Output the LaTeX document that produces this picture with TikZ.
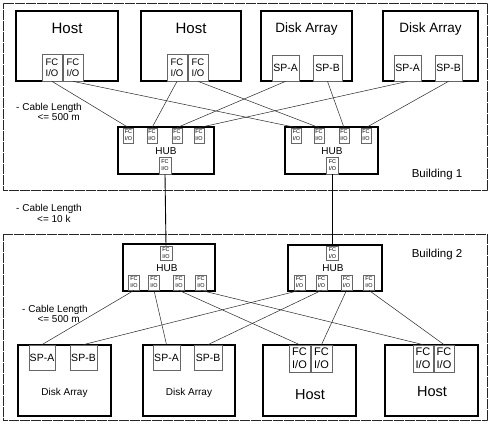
\documentclass[tikz,border=0pt]{standalone}
\usepackage{fontspec}
\setmainfont{Liberation Sans}
\begin{document}
\begin{tikzpicture}[x=1pt,y=-1pt,
  bld/.style={draw=black!85, line width=0.9pt, dash pattern=on 0.6pt off 0.5pt, inner sep=0pt},
  unit/.style={draw, line width=1.2pt, inner sep=0pt},
  port/.style={draw=black!60, line width=0.75pt, inner sep=0pt, fill=white, align=center},
  bigport/.style={port, font=\fontsize{9.5}{11}\selectfont},
  hubport/.style={port, minimum width=10, font=\fontsize{5.5}{7}\selectfont},
  spport/.style={port, font=\fontsize{10.5}{12}\selectfont},
  lowport/.style={port, font=\fontsize{11}{13}\selectfont},
  wire/.style={line width=0.5pt, black!85},
  link/.style={line width=0.9pt},
  lbl/.style={inner sep=0pt, font=\fontsize{10}{12}\selectfont}
]
\useasboundingbox (0,0) rectangle (492,425);
% buildings
\node[bld, minimum width=484, minimum height=187] (b1) at (245,96.5) {};
\node[bld, minimum width=484, minimum height=186] (b2) at (245,327) {};
\node[inner sep=0pt, font=\fontsize{11.5}{13}\selectfont] (b1t) at (437,175) {Building 1};
\node[inner sep=0pt, font=\fontsize{11.5}{13}\selectfont] (b2t) at (437,255) {Building 2};

% ---- top row ----
\node[unit, minimum width=102, minimum height=70] (host1) at (67,46) {};
\node[inner sep=0pt, font=\fontsize{15}{18}\selectfont] (host1t) at (67,28) {Host};
\node[bigport, minimum width=20, minimum height=27] (h1a) at (52,67.5) {FC\\I/O};
\node[bigport, minimum width=20, minimum height=27] (h1b) at (73,67.5) {FC\\I/O};

\node[unit, minimum width=100, minimum height=70] (host2) at (191,46) {};
\node[inner sep=0pt, font=\fontsize{15}{18}\selectfont] (host2t) at (191,28) {Host};
\node[bigport, minimum width=20, minimum height=27] (h2a) at (177,67.5) {FC\\I/O};
\node[bigport, minimum width=20, minimum height=27] (h2b) at (198,67.5) {FC\\I/O};

\node[unit, minimum width=91, minimum height=70] (disk1) at (306.5,46) {};
\node[inner sep=0pt, font=\fontsize{13.5}{16}\selectfont] (disk1t) at (306.5,29) {Disk Array};
\node[spport, minimum width=27, minimum height=26] (d1a) at (285.5,68) {SP-A};
\node[spport, minimum width=29, minimum height=26] (d1b) at (327.5,68) {SP-B};

\node[unit, minimum width=95, minimum height=70] (disk2) at (430.5,46) {};
\node[inner sep=0pt, font=\fontsize{13.5}{16}\selectfont] (disk2t) at (430.5,29) {Disk Array};
\node[spport, minimum width=27, minimum height=26] (d2a) at (407.5,68) {SP-A};
\node[spport, minimum width=27, minimum height=26] (d2b) at (448.5,68) {SP-B};

% ---- upper hubs ----
\node[unit, minimum width=96, minimum height=47] (hub1) at (166,150.5) {};
\node[inner sep=0pt, font=\fontsize{10}{12}\selectfont] (hub1t) at (166,151) {HUB};
\node[hubport, minimum height=15] (u1a) at (128.5,135.5) {FC\\I/O};
\node[hubport, minimum height=15] (u1b) at (152,135.5) {FC\\I/O};
\node[hubport, minimum height=15] (u1c) at (177,135.5) {FC\\I/O};
\node[hubport, minimum height=15] (u1d) at (199,135.5) {FC\\I/O};
\node[hubport, minimum width=12, minimum height=17] (u1o) at (165,165.5) {FC\\I/O};

\node[unit, minimum width=93, minimum height=47] (hub2) at (331.5,150.5) {};
\node[inner sep=0pt, font=\fontsize{10}{12}\selectfont] (hub2t) at (332,151) {HUB};
\node[hubport, minimum height=15] (u2a) at (296.5,135.5) {FC\\I/O};
\node[hubport, minimum height=15] (u2b) at (319,135.5) {FC\\I/O};
\node[hubport, minimum height=15] (u2c) at (344,135.5) {FC\\I/O};
\node[hubport, minimum height=15] (u2d) at (366,135.5) {FC\\I/O};
\node[hubport, minimum width=12, minimum height=17] (u2o) at (332.5,165.5) {FC\\I/O};

% ---- lower hubs ----
\node[unit, minimum width=92, minimum height=47] (hub3) at (169,267.5) {};
\node[inner sep=0pt, font=\fontsize{10}{12}\selectfont] (hub3t) at (167,268) {HUB};
\node[hubport, minimum width=12, minimum height=14] (u3o) at (166,253) {FC\\I/O};
\node[hubport, minimum width=11, minimum height=15] (u3a) at (134,282.5) {FC\\I/O};
\node[hubport, minimum width=11, minimum height=15] (u3b) at (154,282.5) {FC\\I/O};
\node[hubport, minimum width=11, minimum height=15] (u3c) at (179,282.5) {FC\\I/O};
\node[hubport, minimum width=11, minimum height=15] (u3d) at (201,282.5) {FC\\I/O};

\node[unit, minimum width=94, minimum height=46] (hub4) at (335,268) {};
\node[inner sep=0pt, font=\fontsize{10}{12}\selectfont] (hub4t) at (333,268) {HUB};
\node[hubport, minimum width=12, minimum height=14] (u4o) at (332.5,253) {FC\\I/O};
\node[hubport, minimum width=11, minimum height=15] (u4a) at (299.5,282.5) {FC\\I/O};
\node[hubport, minimum width=11, minimum height=15] (u4b) at (321.5,282.5) {FC\\I/O};
\node[hubport, minimum width=11, minimum height=15] (u4c) at (346.5,282.5) {FC\\I/O};
\node[hubport, minimum width=11, minimum height=15] (u4d) at (369,282.5) {FC\\I/O};

% ---- bottom row ----
\node[unit, minimum width=93, minimum height=71] (disk3) at (64.5,380.5) {};
\node[inner sep=0pt, font=\fontsize{10}{12}\selectfont] (disk3t) at (64.5,393) {Disk Array};
\node[spport, minimum width=26, minimum height=25] (d3a) at (42,357.5) {SP-A};
\node[spport, minimum width=27, minimum height=25] (d3b) at (83.5,357.5) {SP-B};

\node[unit, minimum width=92, minimum height=71] (disk4) at (189,380.5) {};
\node[inner sep=0pt, font=\fontsize{10}{12}\selectfont] (disk4t) at (189,393) {Disk Array};
\node[spport, minimum width=27, minimum height=25] (d4a) at (166.5,357.5) {SP-A};
\node[spport, minimum width=28, minimum height=25] (d4b) at (208,357.5) {SP-B};

\node[unit, minimum width=93, minimum height=71] (host3) at (309.5,380.5) {};
\node[inner sep=0pt, font=\fontsize{14.5}{17}\selectfont] (host3t) at (310,395) {Host};
\node[lowport, minimum width=21, minimum height=27] (h3a) at (299.5,358.5) {FC\\I/O};
\node[lowport, minimum width=21, minimum height=27] (h3b) at (321.5,358.5) {FC\\I/O};

\node[unit, minimum width=93, minimum height=71] (host4) at (431.5,380.5) {};
\node[inner sep=0pt, font=\fontsize{14.5}{17}\selectfont] (host4t) at (432,392) {Host};
\node[lowport, minimum width=20, minimum height=27] (h4a) at (423,358.5) {FC\\I/O};
\node[lowport, minimum width=20, minimum height=27] (h4b) at (444,358.5) {FC\\I/O};

% ---- cable length notes ----
\node[lbl, anchor=base west] (c1a) at (16,110.5) {- Cable Length};
\node[lbl, anchor=base east] (c1b) at (80,120.5) {<= 500 m};
\node[lbl, anchor=base west] (c2a) at (16,211) {- Cable Length};
\node[lbl, anchor=base west] (c2b) at (37,222) {<= 10 k};
\node[lbl, anchor=base west] (c3a) at (22,312) {- Cable Length};
\node[lbl, anchor=base east] (c3b) at (80,322) {<= 500 m};

% ---- connectors ----
\draw[wire] (h1a.south) -- (u1a.north);
\draw[wire] (h1b.south) -- (u2a.north);
\draw[wire] (h2a.south) -- (u1b.north);
\draw[wire] (h2b.south) -- (u2b.north);
\draw[wire] (d1a.south) -- (u1c.north);
\draw[wire] (d1b.south) -- (u2c.north);
\draw[wire] (d2a.south) -- (u1d.north);
\draw[wire] (d2b.south) -- (u2d.north);

\draw[link] (u1o.south) -- (u3o.north);
\draw[link] (u2o.south) -- (u4o.north);

\draw[wire] (u3a.south) -- (d3a.north);
\draw[wire] (u3b.south) -- (d4a.north);
\draw[wire] (u3c.south) -- (h3a.north);
\draw[wire] (u3d.south) -- (h4a.north);
\draw[wire] (u4a.south) -- (d3b.north);
\draw[wire] (u4b.south) -- (d4b.north);
\draw[wire] (u4c.south) -- (h3b.north);
\draw[wire] (u4d.south) -- (h4b.north);
\end{tikzpicture}
\end{document}
